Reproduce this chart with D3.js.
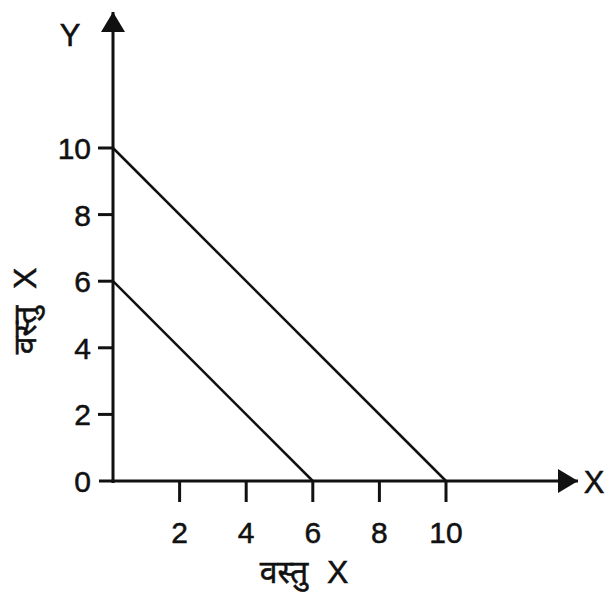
<!DOCTYPE html>
<html lang="hi">

<head>
    <meta charset="UTF-8">
    <title>बजट रेखाएँ</title>
    <script src="https://unpkg.com/d3@7.8.5/dist/d3.min.js"></script>
    <style>
        body { margin: 0; background: #fff; }
        text { font-family: "Liberation Sans", Arial, "Noto Sans Devanagari", "Noto Sans", sans-serif; fill: #111; stroke: #111; stroke-width: 0.5px; }
    </style>
</head>

<body>
    <svg width="608" height="595"></svg>
    <script>
        // data
        var xTicks = [2, 4, 6, 8, 10]
        var yTicks = [0, 2, 4, 6, 8, 10]
        var xIntercepts = [6, 10]   // where each line meets the X axis
        var yIntercepts = [6, 10]   // where each line meets the Y axis
        var xTitle = 'वस्तु X'
        var yTitle = 'वस्तु X'

        var svg = d3.select('svg')
        var ink = '#111'

        var x = d3.scaleLinear().domain([0, 10]).range([113, 446])
        var y = d3.scaleLinear().domain([0, 10]).range([481, 148])

        // arrow head for both axes
        svg.append('defs').append('marker')
            .attr('id', 'arrow')
            .attr('viewBox', '0 0 20 24')
            .attr('refX', 20).attr('refY', 12)
            .attr('markerWidth', 20).attr('markerHeight', 24)
            .attr('markerUnits', 'userSpaceOnUse')
            .attr('orient', 'auto')
            .append('path').attr('d', 'M0,0 L20,12 L0,24 Z').attr('fill', ink)

        svg.append('line')
            .attr('x1', x(0) - 14).attr('y1', y(0))
            .attr('x2', 578).attr('y2', y(0))
            .attr('stroke', ink).attr('stroke-width', 3)
            .attr('marker-end', 'url(#arrow)')

        svg.append('line')
            .attr('x1', x(0)).attr('y1', y(0) + 2)
            .attr('x2', x(0)).attr('y2', 12)
            .attr('stroke', ink).attr('stroke-width', 3)
            .attr('marker-end', 'url(#arrow)')

        // x ticks
        svg.selectAll('.xt').data(xTicks).enter()
            .append('line')
            .attr('x1', d => x(d)).attr('x2', d => x(d))
            .attr('y1', y(0)).attr('y2', y(0) + 21)
            .attr('stroke', ink).attr('stroke-width', 3)

        svg.selectAll('.xl').data(xTicks).enter()
            .append('text')
            .attr('x', d => x(d)).attr('y', 543)
            .attr('text-anchor', 'middle')
            .attr('font-size', 30)
            .text(d => d)

        // y ticks
        svg.selectAll('.yt').data(yTicks.filter(d => d > 0)).enter()
            .append('line')
            .attr('x1', x(0) - 15).attr('x2', x(0))
            .attr('y1', d => y(d)).attr('y2', d => y(d))
            .attr('stroke', ink).attr('stroke-width', 3)

        svg.selectAll('.yl').data(yTicks).enter()
            .append('text')
            .attr('x', 91).attr('y', d => y(d) + 11)
            .attr('text-anchor', 'end')
            .attr('font-size', 30)
            .text(d => d)

        // budget lines
        svg.selectAll('.budget').data(xIntercepts).enter()
            .append('line')
            .attr('x1', x(0)).attr('y1', (d, i) => y(yIntercepts[i]))
            .attr('x2', d => x(d)).attr('y2', y(0))
            .attr('stroke', ink).attr('stroke-width', 2.5)

        // axis letters
        svg.append('text').attr('x', 70).attr('y', 46)
            .attr('text-anchor', 'middle').attr('font-size', 31).text('Y')
        svg.append('text').attr('x', 594).attr('y', 493)
            .attr('text-anchor', 'middle').attr('font-size', 31).text('X')

        // axis titles
        svg.append('text').attr('x', 304).attr('y', 583)
            .attr('text-anchor', 'middle').attr('font-size', 32)
            .attr('word-spacing', 10).text(xTitle)
        svg.append('text')
            .attr('transform', 'translate(36, 311) rotate(-90)')
            .attr('text-anchor', 'middle').attr('font-size', 32)
            .attr('word-spacing', 8).text(yTitle)
    </script>
</body>

</html>
